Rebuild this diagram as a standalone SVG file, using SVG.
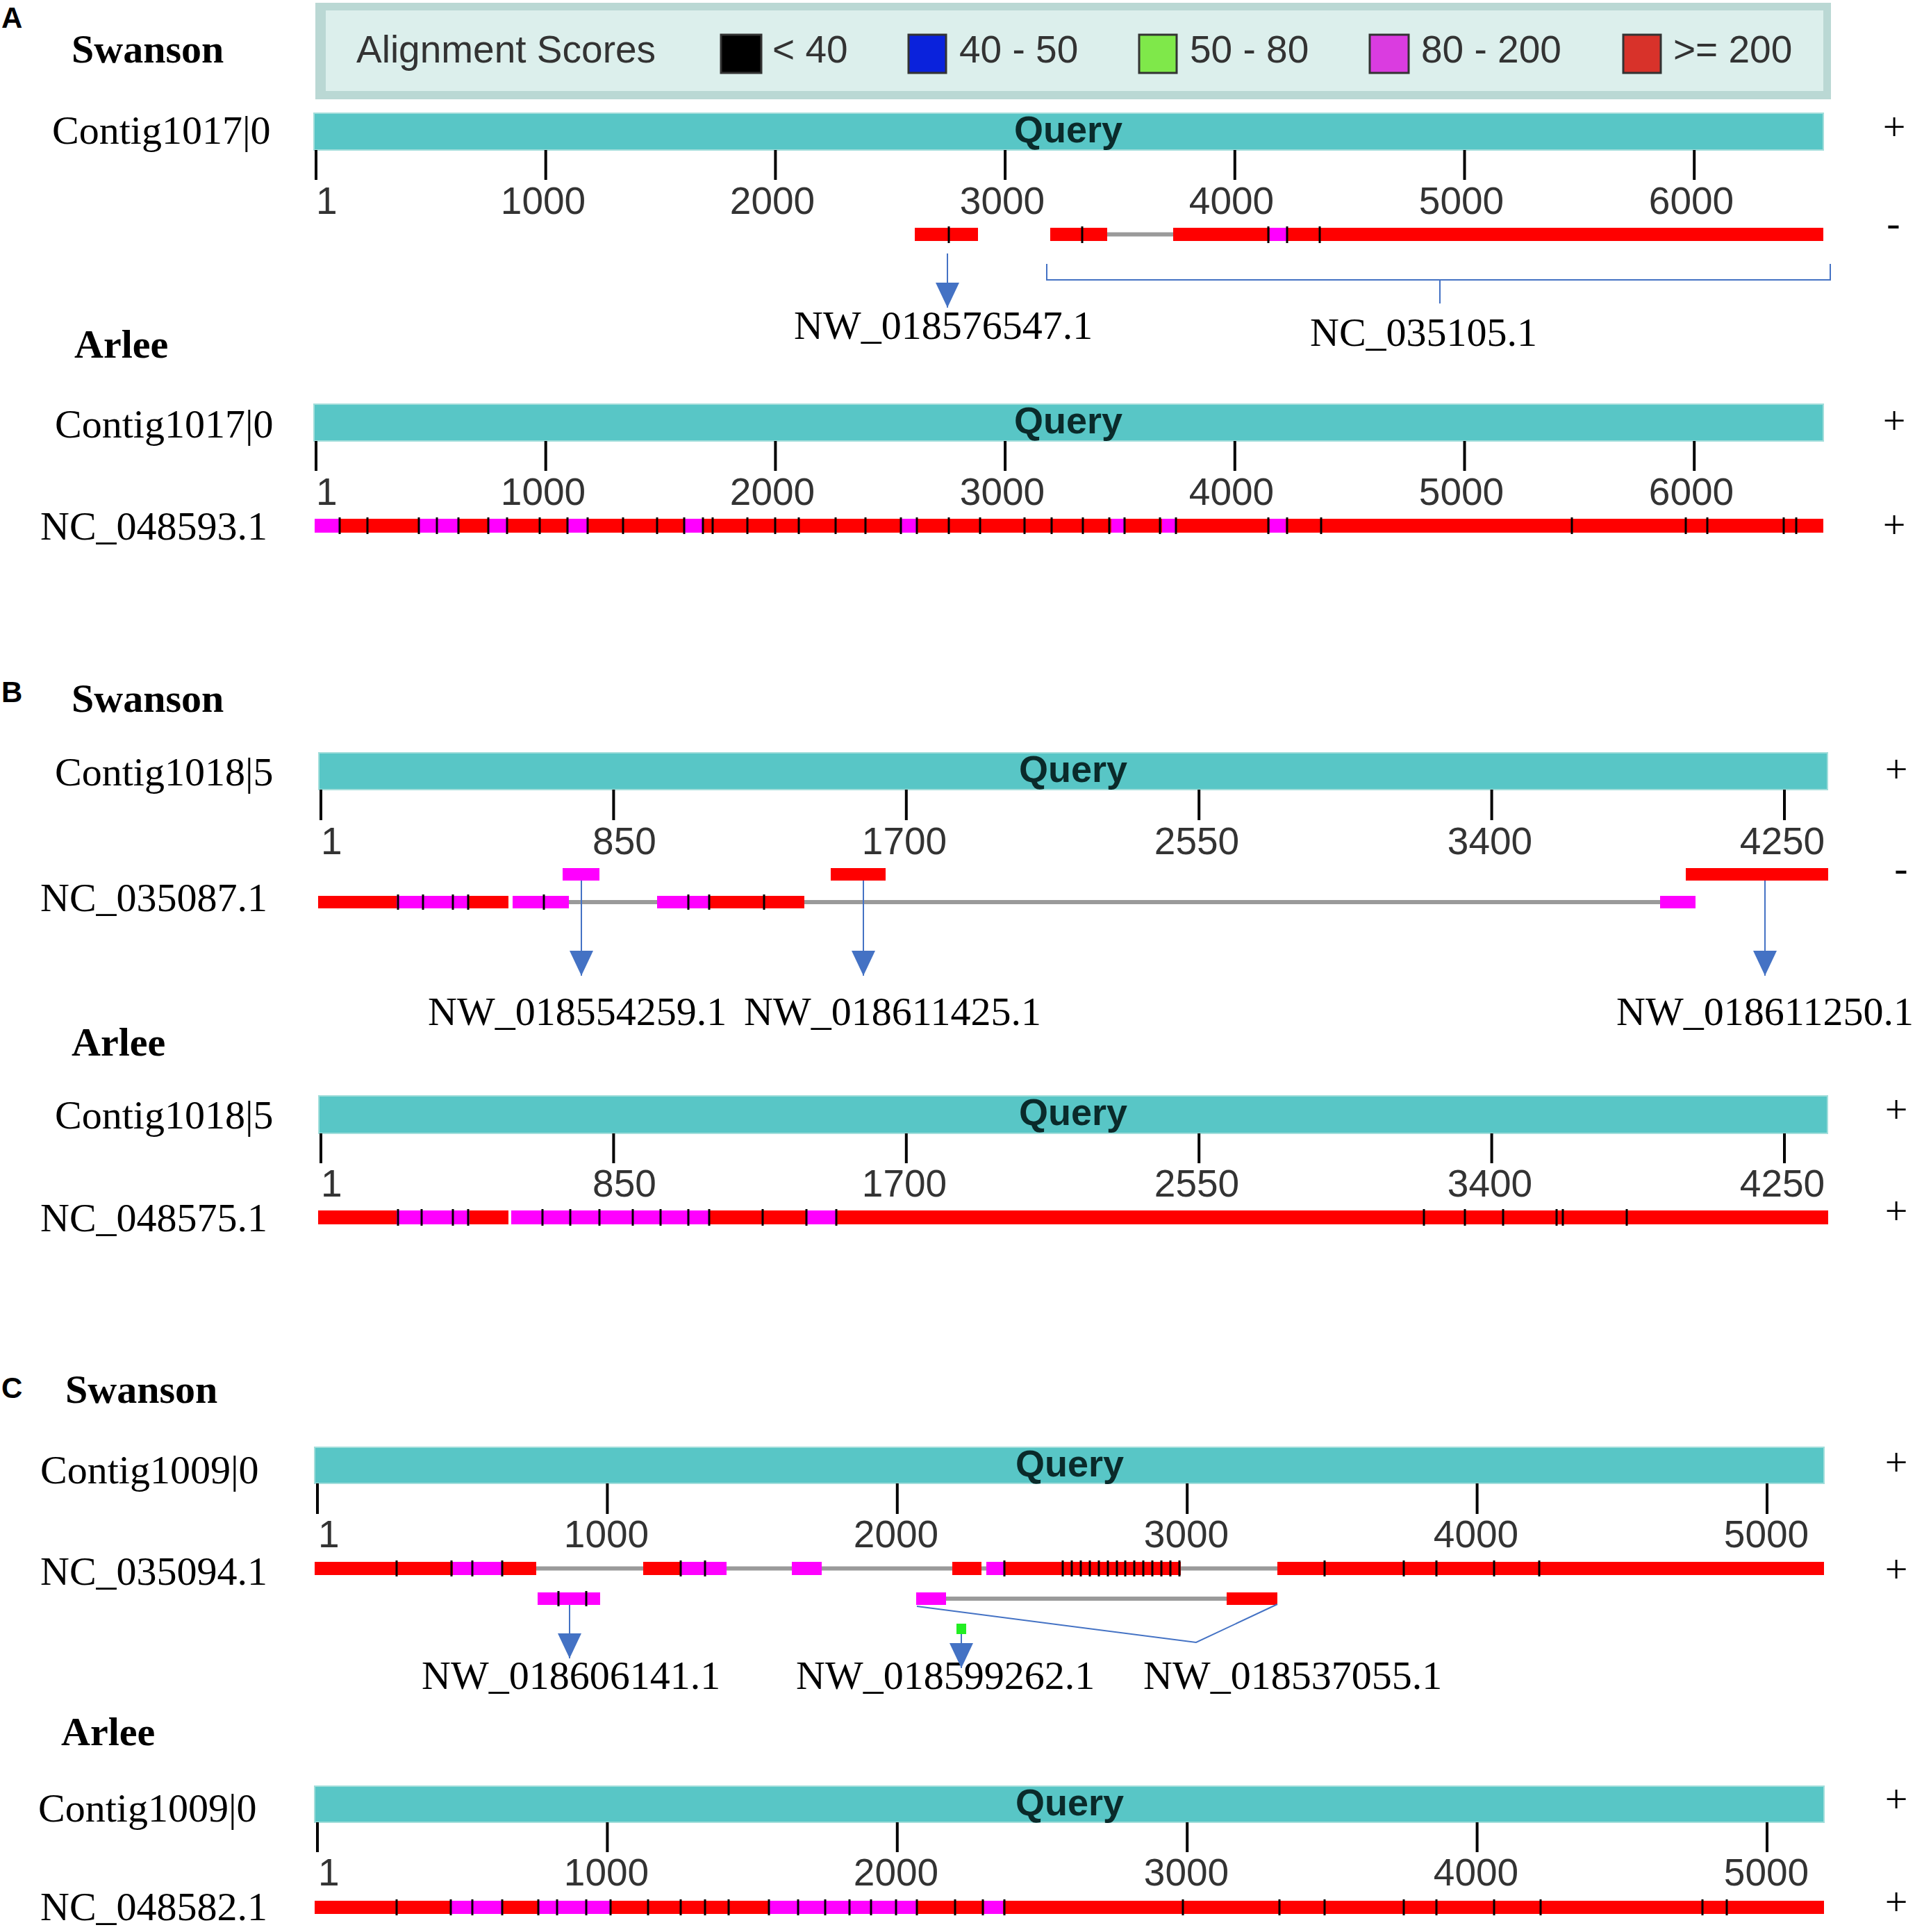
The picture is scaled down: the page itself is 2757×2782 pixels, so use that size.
<svg xmlns="http://www.w3.org/2000/svg" width="2757" height="2782" viewBox="0 0 2757 2782">
<style>
.bg{fill:#fff}
.q{fill:#58c6c6;stroke:#a3dedb;stroke-width:2}
.r{fill:#ff0000}
.m{fill:#ff00ff}
.gr{stroke:#9a9a9a;stroke-width:6}
.tk{stroke:#000;stroke-width:4;fill:none}
.ht{stroke:#000;stroke-width:3;fill:none}
.ser{font-family:"Liberation Serif","Times New Roman",serif;font-size:58px;fill:#000}
.serb{font-family:"Liberation Serif","Times New Roman",serif;font-size:58px;font-weight:bold;fill:#000}
.num{font-family:"Liberation Sans",Arial,sans-serif;font-size:55px;fill:#333}
.ql{font-family:"Liberation Sans",Arial,sans-serif;font-size:54px;font-weight:bold;fill:#0a2a2a;text-anchor:middle}
.pl{font-family:"Liberation Sans",Arial,sans-serif;font-size:42px;font-weight:bold;fill:#000}
.st{font-family:"Liberation Serif","Times New Roman",serif;font-size:58px;fill:#000;text-anchor:middle}
.c{text-anchor:middle}
.conn{stroke:#4472c4;stroke-width:2;fill:none}
.sw{stroke:#333;stroke-width:3}
</style>
<defs>
<marker id="arr" markerUnits="userSpaceOnUse" markerWidth="36" markerHeight="36" viewBox="0 0 36 34" refX="36" refY="17" orient="auto">
<path d="M0,0L36,17L0,34z" fill="#4472c4"/>
</marker>
</defs>
<rect class="bg" x="0" y="0" width="2757" height="2782"/>

<g id="legend">
<rect x="454" y="4" width="2182" height="139" fill="#bad8d4"/>
<rect x="469" y="15" width="2156" height="116" fill="#dcefec"/>
<text class="num" x="513" y="90">Alignment Scores</text>
<rect class="sw" x="1038" y="50" width="58" height="55" fill="#000"/>
<text class="num" x="1112" y="90">&lt; 40</text>
<rect class="sw" x="1308" y="50" width="54" height="55" fill="#0a22dc"/>
<text class="num" x="1381" y="90">40 - 50</text>
<rect class="sw" x="1640" y="50" width="54" height="55" fill="#7fe84a"/>
<text class="num" x="1713" y="90">50 - 80</text>
<rect class="sw" x="1972" y="50" width="56" height="55" fill="#da3ce0"/>
<text class="num" x="2046" y="90">80 - 200</text>
<rect class="sw" x="2337" y="50" width="54" height="55" fill="#d8322a"/>
<text class="num" x="2409" y="90">&gt;= 200</text>
</g>

<g id="panelA-swanson">
<text class="pl" x="2" y="40">A</text>
<text class="serb" x="103" y="90">Swanson</text>
<text class="ser" x="75" y="207">Contig1017|0</text>
<rect class="q" x="452" y="163" width="2173" height="53"/>
<text class="ql" x="1538" y="205">Query</text>
<path class="tk" d="M455,216V259M785.7,216V259M1116.4,216V259M1447.1,216V259M1777.8,216V259M2108.5,216V259M2439.2,216V259"/>
<text class="num" x="455" y="308">1</text>
<text class="num c" x="782" y="308">1000</text>
<text class="num c" x="1112" y="308">2000</text>
<text class="num c" x="1443" y="308">3000</text>
<text class="num c" x="1773" y="308">4000</text>
<text class="num c" x="2104" y="308">5000</text>
<text class="num c" x="2435" y="308">6000</text>
<line class="gr" x1="1594" y1="337.5" x2="1689" y2="337.5"/>
<rect class="r" x="1317" y="328" width="91" height="19"/>
<rect class="r" x="1512" y="328" width="82" height="19"/>
<rect class="r" x="1689" y="328" width="936" height="19"/>
<rect class="m" x="1828" y="328" width="24" height="19"/>
<path class="ht" d="M1366,326V350M1558,326V350M1826,326V350M1853,326V350M1900,326V350"/>
<text class="st" x="2727" y="202">+</text>
<text class="st" x="2726" y="340">-</text>
</g>

<g id="panelA-arlee">
<text class="serb" x="107" y="515">Arlee</text>
<text class="ser" x="79" y="630">Contig1017|0</text>
<rect class="q" x="452" y="582" width="2173" height="53"/>
<text class="ql" x="1538" y="624">Query</text>
<path class="tk" d="M455,635V678M785.7,635V678M1116.4,635V678M1447.1,635V678M1777.8,635V678M2108.5,635V678M2439.2,635V678"/>
<text class="num" x="455" y="727">1</text>
<text class="num c" x="782" y="727">1000</text>
<text class="num c" x="1112" y="727">2000</text>
<text class="num c" x="1443" y="727">3000</text>
<text class="num c" x="1773" y="727">4000</text>
<text class="num c" x="2104" y="727">5000</text>
<text class="num c" x="2435" y="727">6000</text>
<text class="ser" x="58" y="777">NC_048593.1</text>
<rect class="r" x="453" y="747" width="2172" height="20"/>
<rect class="m" x="453" y="747" width="36" height="20"/>
<rect class="m" x="603" y="747" width="56" height="20"/>
<rect class="m" x="703" y="747" width="26" height="20"/>
<rect class="m" x="817" y="747" width="29" height="20"/>
<rect class="m" x="985" y="747" width="27" height="20"/>
<rect class="m" x="1297" y="747" width="23" height="20"/>
<rect class="m" x="1600" y="747" width="19" height="20"/>
<rect class="m" x="1673" y="747" width="19" height="20"/>
<rect class="m" x="1828" y="747" width="23" height="20"/>
<path class="ht" d="M489,745V769M529,745V769M603,745V769M629,745V769M660,745V769M703,745V769M730,745V769M777,745V769M817,745V769M846,745V769M897,745V769M946,745V769M985,745V769M1012,745V769M1026,745V769M1076,745V769M1116,745V769M1150,745V769M1203,745V769M1246,745V769M1297,745V769M1320,745V769M1366,745V769M1411,745V769M1475,745V769M1514,745V769M1559,745V769M1597,745V769M1619,745V769M1670,745V769M1693,745V769M1826,745V769M1853,745V769M1902,745V769M2263,745V769M2427,745V769M2458,745V769M2568,745V769M2586,745V769"/>
<text class="st" x="2727" y="625">+</text>
<text class="st" x="2727" y="775">+</text>
</g>

<g id="panelB-swanson">
<text class="pl" x="2" y="1011">B</text>
<text class="serb" x="103" y="1025">Swanson</text>
<text class="ser" x="79" y="1131">Contig1018|5</text>
<rect class="q" x="459" y="1084" width="2172" height="53"/>
<text class="ql" x="1545" y="1126">Query</text>
<path class="tk" d="M462,1137V1181M883.4,1137V1181M1304.8,1137V1181M1726.2,1137V1181M2147.6,1137V1181M2569,1137V1181"/>
<text class="num" x="462" y="1230">1</text>
<text class="num c" x="899" y="1230">850</text>
<text class="num c" x="1302" y="1230">1700</text>
<text class="num c" x="1723" y="1230">2550</text>
<text class="num c" x="2145" y="1230">3400</text>
<text class="num c" x="2566" y="1230">4250</text>
<rect class="m" x="810" y="1250" width="53" height="18"/>
<rect class="r" x="1196" y="1250" width="79" height="18"/>
<rect class="r" x="2427" y="1250" width="205" height="18"/>
<text class="ser" x="58" y="1312">NC_035087.1</text>
<line class="gr" x1="819" y1="1299" x2="946" y2="1299"/>
<line class="gr" x1="1158" y1="1299" x2="2390" y2="1299"/>
<rect class="r" x="458" y="1290" width="274" height="18"/>
<rect class="m" x="571" y="1290" width="103" height="18"/>
<rect class="m" x="738" y="1290" width="81" height="18"/>
<rect class="m" x="946" y="1290" width="76" height="18"/>
<rect class="r" x="1022" y="1290" width="136" height="18"/>
<rect class="m" x="2390" y="1290" width="51" height="18"/>
<path class="ht" d="M573,1288V1310M609,1288V1310M652,1288V1310M674,1288V1310M783,1288V1310M991,1288V1310M1021,1288V1310M1100,1288V1310"/>
<text class="serb" x="103" y="1520">Arlee</text>
<text class="st" x="2730" y="1127">+</text>
<text class="st" x="2737" y="1269">-</text>
</g>

<g id="panelB-arlee">
<text class="ser" x="79" y="1625">Contig1018|5</text>
<rect class="q" x="459" y="1578" width="2172" height="54"/>
<text class="ql" x="1545" y="1620">Query</text>
<path class="tk" d="M462,1632V1675M883.4,1632V1675M1304.8,1632V1675M1726.2,1632V1675M2147.6,1632V1675M2569,1632V1675"/>
<text class="num" x="462" y="1723">1</text>
<text class="num c" x="899" y="1723">850</text>
<text class="num c" x="1302" y="1723">1700</text>
<text class="num c" x="1723" y="1723">2550</text>
<text class="num c" x="2145" y="1723">3400</text>
<text class="num c" x="2566" y="1723">4250</text>
<text class="ser" x="58" y="1773">NC_048575.1</text>
<rect class="r" x="458" y="1743" width="274" height="20"/>
<rect class="r" x="1021" y="1743" width="1611" height="20"/>
<rect class="m" x="571" y="1743" width="105" height="20"/>
<rect class="m" x="736" y="1743" width="285" height="20"/>
<rect class="m" x="1161" y="1743" width="43" height="20"/>
<path class="ht" d="M573,1741V1765M607,1741V1765M652,1741V1765M674,1741V1765M781,1741V1765M821,1741V1765M863,1741V1765M911,1741V1765M951,1741V1765M991,1741V1765M1021,1741V1765M1098,1741V1765M1161,1741V1765M1204,1741V1765M2050,1741V1765M2109,1741V1765M2164,1741V1765M2241,1741V1765M2250,1741V1765M2342,1741V1765"/>
<text class="st" x="2730" y="1617">+</text>
<text class="st" x="2730" y="1763">+</text>
</g>

<g id="panelC-swanson">
<text class="pl" x="2" y="2013">C</text>
<text class="serb" x="94" y="2020">Swanson</text>
<text class="ser" x="58" y="2136">Contig1009|0</text>
<rect class="q" x="453" y="2084" width="2173" height="52"/>
<text class="ql" x="1540" y="2126">Query</text>
<path class="tk" d="M457,2136V2180M874.4,2136V2180M1291.8,2136V2180M1709.2,2136V2180M2126.6,2136V2180M2544,2136V2180"/>
<text class="num" x="458" y="2228">1</text>
<text class="num c" x="873" y="2228">1000</text>
<text class="num c" x="1290" y="2228">2000</text>
<text class="num c" x="1708" y="2228">3000</text>
<text class="num c" x="2125" y="2228">4000</text>
<text class="num c" x="2543" y="2228">5000</text>
<text class="ser" x="58" y="2282">NC_035094.1</text>
<line class="gr" x1="772" y1="2258.5" x2="1839" y2="2258.5"/>
<rect class="r" x="453" y="2249" width="319" height="19"/>
<rect class="m" x="652" y="2249" width="71" height="19"/>
<rect class="r" x="926" y="2249" width="55" height="19"/>
<rect class="m" x="981" y="2249" width="65" height="19"/>
<rect class="m" x="1140" y="2249" width="43" height="19"/>
<rect class="r" x="1371" y="2249" width="42" height="19"/>
<rect class="m" x="1420" y="2249" width="26" height="19"/>
<rect class="r" x="1446" y="2249" width="254" height="19"/>
<rect class="r" x="1839" y="2249" width="787" height="19"/>
<path class="ht" d="M571,2247V2270M650,2247V2270M680,2247V2270M723,2247V2270M980,2247V2270M1015,2247V2270M1446,2247V2270M1530,2247V2270M1543,2247V2270M1556,2247V2270M1569,2247V2270M1582,2247V2270M1595,2247V2270M1608,2247V2270M1620,2247V2270M1633,2247V2270M1646,2247V2270M1659,2247V2270M1672,2247V2270M1685,2247V2270M1698,2247V2270M1907,2247V2270M2021,2247V2270M2068,2247V2270M2151,2247V2270M2216,2247V2270"/>
<rect class="m" x="774" y="2293" width="90" height="18"/>
<path class="ht" d="M804,2291V2313M844,2291V2313"/>
<line class="gr" x1="1362" y1="2302" x2="1766" y2="2302"/>
<rect class="m" x="1319" y="2293" width="43" height="18"/>
<rect class="r" x="1766" y="2293" width="73" height="18"/>
<rect x="1377" y="2338" width="14" height="15" fill="#22ee22"/>
<text class="st" x="2730" y="2125">+</text>
<text class="st" x="2730" y="2279">+</text>
</g>

<g id="panelC-arlee">
<text class="serb" x="88" y="2513">Arlee</text>
<text class="ser" x="55" y="2623">Contig1009|0</text>
<rect class="q" x="453" y="2572" width="2173" height="52"/>
<text class="ql" x="1540" y="2614">Query</text>
<path class="tk" d="M457,2624V2667M874.4,2624V2667M1291.8,2624V2667M1709.2,2624V2667M2126.6,2624V2667M2544,2624V2667"/>
<text class="num" x="458" y="2715">1</text>
<text class="num c" x="873" y="2715">1000</text>
<text class="num c" x="1290" y="2715">2000</text>
<text class="num c" x="1708" y="2715">3000</text>
<text class="num c" x="2125" y="2715">4000</text>
<text class="num c" x="2543" y="2715">5000</text>
<text class="ser" x="58" y="2765">NC_048582.1</text>
<rect class="r" x="453" y="2737" width="2173" height="19"/>
<rect class="m" x="649" y="2737" width="74" height="19"/>
<rect class="m" x="775" y="2737" width="104" height="19"/>
<rect class="m" x="1107" y="2737" width="213" height="19"/>
<rect class="m" x="1417" y="2737" width="27" height="19"/>
<path class="ht" d="M571,2735V2758M649,2735V2758M680,2735V2758M723,2735V2758M775,2735V2758M802,2735V2758M844,2735V2758M879,2735V2758M933,2735V2758M980,2735V2758M1015,2735V2758M1049,2735V2758M1107,2735V2758M1149,2735V2758M1188,2735V2758M1223,2735V2758M1254,2735V2758M1290,2735V2758M1320,2735V2758M1375,2735V2758M1415,2735V2758M1446,2735V2758M1703,2735V2758M1842,2735V2758M1907,2735V2758M2021,2735V2758M2068,2735V2758M2151,2735V2758M2218,2735V2758M2451,2735V2758M2486,2735V2758"/>
<text class="st" x="2730" y="2610">+</text>
<text class="st" x="2730" y="2758">+</text>
</g>

<g id="callouts">
<text class="ser" x="1143" y="488">NW_018576547.1</text>
<text class="ser" x="1886" y="498">NC_035105.1</text>
<text class="ser" x="616" y="1476">NW_018554259.1</text>
<text class="ser" x="1071" y="1476">NW_018611425.1</text>
<text class="ser" x="2327" y="1476">NW_018611250.1</text>
<text class="ser" x="607" y="2432">NW_018606141.1</text>
<text class="ser" x="1146" y="2432">NW_018599262.1</text>
<text class="ser" x="1646" y="2432">NW_018537055.1</text>
</g>

<g id="connectors">
<line class="conn" x1="1364" y1="365" x2="1364" y2="443" marker-end="url(#arr)"/>
<path class="conn" d="M1507,380V403H2635V380M2073,403V437"/>
<line class="conn" x1="837" y1="1268" x2="837" y2="1405" marker-end="url(#arr)"/>
<line class="conn" x1="1243" y1="1268" x2="1243" y2="1405" marker-end="url(#arr)"/>
<line class="conn" x1="2541" y1="1268" x2="2541" y2="1405" marker-end="url(#arr)"/>
<line class="conn" x1="820" y1="2311" x2="820" y2="2388" marker-end="url(#arr)"/>
<line class="conn" x1="1384" y1="2353" x2="1384" y2="2402" marker-end="url(#arr)"/>
<polyline class="conn" points="1320,2313 1722,2365 1839,2310"/>
</g>
</svg>
